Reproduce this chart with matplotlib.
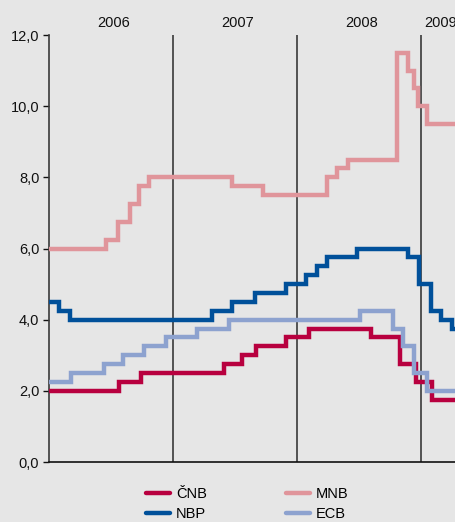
import matplotlib
matplotlib.use("Agg")
import matplotlib.pyplot as plt
from matplotlib.lines import Line2D

plt.rcParams['font.family'] = ['Liberation Sans', 'DejaVu Sans']

# Policy rates (%) as step series; time in months since January 2006
years = ["2006", "2007", "2008", "2009"]
year_starts = [0, 12, 24, 36]
x_end = 39.4

cnb_t = [0, 6.8, 8.9, 16.9, 18.7, 20.0, 22.9, 25.2, 31.2, 34.0, 35.5, 37.1]
cnb_v = [2.0, 2.25, 2.5, 2.75, 3.0, 3.25, 3.5, 3.75, 3.5, 2.75, 2.25, 1.75]

mnb_t = [0, 5.5, 6.7, 7.8, 8.7, 9.7, 17.7, 20.7, 26.9, 27.9, 28.9, 33.7, 34.8, 35.3, 35.75, 36.6]
mnb_v = [6.0, 6.25, 6.75, 7.25, 7.75, 8.0, 7.75, 7.5, 8.0, 8.25, 8.5, 11.5, 11.0, 10.5, 10.0, 9.5]

nbp_t = [0, 1.0, 2.0, 15.8, 17.7, 19.9, 22.9, 24.9, 25.9, 26.9, 29.8, 34.8, 35.8, 37.0, 37.9, 39.0]
nbp_v = [4.5, 4.25, 4.0, 4.25, 4.5, 4.75, 5.0, 5.25, 5.5, 5.75, 6.0, 5.75, 5.0, 4.25, 4.0, 3.75]

ecb_t = [0, 2.1, 5.3, 7.2, 9.2, 11.3, 14.3, 17.4, 30.1, 33.3, 34.3, 35.3, 36.6]
ecb_v = [2.25, 2.5, 2.75, 3.0, 3.25, 3.5, 3.75, 4.0, 4.25, 3.75, 3.25, 2.5, 2.0]

series = [
    ("ČNB", cnb_t, cnb_v, "#b8003f"),
    ("MNB", mnb_t, mnb_v, "#e0959b"),
    ("NBP", nbp_t, nbp_v, "#00509a"),
    ("ECB", ecb_t, ecb_v, "#8da2cf"),
]

yticks = [0, 2, 4, 6, 8, 10, 12]

bg = "#e6e6e6"
fs = 10.5
W, H = 456, 522
fig = plt.figure(figsize=(W / 100, H / 100), dpi=100, facecolor=bg)
ax = fig.add_axes([49 / W, (H - 462) / H, (W - 49) / W, (462 - 35) / H], facecolor=bg)

for yr in year_starts[1:]:
    ax.axvline(yr, color="#3a3a3a", lw=1.2, zorder=1)

handles = {}
for name, t, v, c in series:
    tt = list(t) + [x_end + 1]
    vv = list(v) + [v[-1]]
    ax.plot(tt, vv, drawstyle="steps-post", color=c, lw=3.2, zorder=3,
            solid_joinstyle="miter")
    handles[name] = Line2D([], [], color=c, lw=3.2, solid_capstyle="round")

ax.set_xlim(0, x_end)
ax.set_ylim(0, 12)
ax.set_yticks(yticks)
ax.set_yticklabels([f"{v:.1f}".replace(".", ",") for v in yticks], fontsize=fs)
ax.set_xticks([])

for s in ("top", "right"):
    ax.spines[s].set_visible(False)
ax.spines["left"].set_color("#3a3a3a")
ax.spines["left"].set_linewidth(1.2)
ax.spines["bottom"].set_color("#111111")
ax.spines["bottom"].set_linewidth(1.2)
ax.tick_params(axis="y", length=4, width=1.0, color="#111111", pad=3,
               labelcolor="#111111")

# Year labels centred above each year span
for i, label in enumerate(years):
    left = year_starts[i]
    right = year_starts[i + 1] if i + 1 < len(year_starts) else x_end
    ax.text((left + right) / 2 + 0.25, 12.22, label, ha="center", va="baseline",
            fontsize=fs, color="#111111", clip_on=False)

order = ["ČNB", "NBP", "MNB", "ECB"]
fig.legend([handles[n] for n in order], order, ncol=2, loc="upper left",
           bbox_to_anchor=(146 / W, 1 - 487 / H), frameon=False, fontsize=fs,
           handlelength=1.65, handletextpad=0.4, columnspacing=5.4,
           labelspacing=0.42, borderpad=0, borderaxespad=0)

fig.savefig("out.png", dpi=100, facecolor=bg)
